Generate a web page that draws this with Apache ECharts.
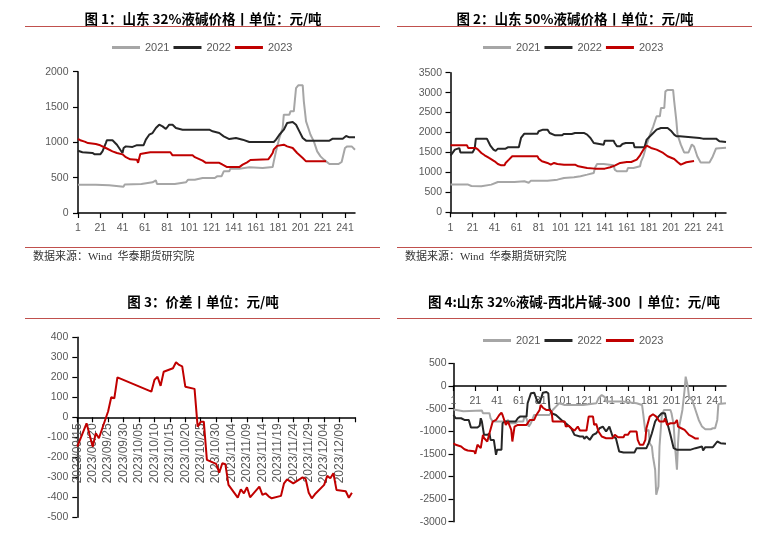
<!DOCTYPE html>
<html><head><meta charset="utf-8">
<script src="https://cdn.jsdelivr.net/npm/echarts@6/dist/echarts.min.js"></script>
<style>html,body{margin:0;padding:0;background:#fff}#c{width:780px;height:533px}</style>
</head><body><div id="c"></div>
<script>
// ---------- categories ----------
const days250 = []; for (let i = 1; i <= 250; i++) days250.push(String(i));
const days251 = []; for (let i = 1; i <= 251; i++) days251.push(String(i));
const spreadDates = [];
for (let d = new Date(2023, 8, 15); d <= new Date(2023, 11, 14); d.setDate(d.getDate() + 1)) {
  spreadDates.push(d.getFullYear() + '/' + String(d.getMonth() + 1).padStart(2, '0') + '/' + String(d.getDate()).padStart(2, '0'));
}
const legendNames = ['2021', '2022', '2023'];

// ---------- 图1 山东32%液碱价格 [day, value] ----------
const p1_2021 = [[1,400],[17,400],[18,392],[29,392],[30,373],[42,373],[43,405],[58,410],[59,434],[68,434],[69,462],[71,462],[72,410],[88,410],[89,434],[98,434],[100,472],[106,472],[107,495],[113,495],[114,472],[115,495],[124,495],[126,519],[130,519],[132,590],[137,590],[138,627],[146,627],[147,646],[155,646],[156,637],[167,637],[168,651],[176,651],[177,731],[179,873],[182,1061],[185,1203],[186,1392],[191,1392],[192,1439],[195,1439],[197,1769],[199,1807],[203,1807],[204,1580],[206,1297],[208,1203],[210,1108],[213,1014],[216,873],[219,802],[222,755],[227,693],[235,693],[238,722],[241,920],[243,943],[247,943],[250,896]];
const p1_2022 = [[1,880],[5,860],[14,850],[16,830],[21,830],[23,873],[26,990],[27,1030],[32,1030],[33,1014],[36,967],[39,896],[41,849],[42,920],[44,943],[50,935],[54,960],[60,960],[62,1038],[65,1108],[68,1132],[71,1203],[74,1250],[77,1226],[80,1189],[83,1250],[86,1250],[89,1203],[95,1179],[119,1179],[122,1156],[128,1132],[132,1085],[137,1047],[143,1061],[149,1038],[155,1005],[177,1005],[179,1038],[182,1108],[186,1179],[189,1274],[194,1288],[197,1250],[200,1156],[203,1061],[206,1024],[227,1024],[230,1052],[231,1024],[233,1052],[239,1052],[242,1090],[245,1071],[250,1071]];
const p1_2023 = [[1,1050],[3,1030],[7,1010],[10,990],[17,976],[21,958],[26,920],[32,873],[36,849],[41,830],[44,790],[48,760],[54,755],[55,710],[56,705],[57,835],[62,849],[66,860],[84,860],[86,816],[104,816],[106,790],[113,741],[116,710],[128,710],[131,684],[135,650],[146,650],[149,684],[153,717],[156,750],[172,760],[174,802],[176,849],[177,900],[180,950],[186,967],[189,943],[194,920],[198,849],[203,778],[206,731],[224,731]];

// ---------- 图2 山东50%液碱价格 ----------
const p2_2021 = [[1,694],[17,694],[18,677],[20,660],[29,652],[30,694],[38,694],[39,735],[44,760],[59,760],[60,777],[68,777],[69,740],[72,740],[74,794],[89,794],[90,819],[98,819],[99,861],[104,861],[105,877],[113,877],[114,903],[119,903],[120,944],[125,944],[126,986],[131,986],[132,1111],[134,1212],[140,1212],[141,1178],[149,1178],[150,1070],[152,1028],[161,1028],[162,1111],[167,1111],[168,1153],[173,1153],[174,1279],[176,1404],[179,1696],[182,1947],[185,2156],[188,2407],[191,2407],[192,2616],[195,2616],[196,3034],[198,3067],[203,3067],[204,2783],[206,2281],[207,1947],[210,1696],[213,1500],[217,1500],[220,1700],[222,1650],[225,1400],[228,1250],[236,1250],[239,1400],[242,1600],[251,1620]];
const p2_2022 = [[1,1420],[5,1571],[9,1610],[10,1500],[21,1500],[23,1600],[24,1847],[34,1847],[37,1680],[40,1571],[42,1540],[44,1596],[51,1596],[53,1630],[63,1630],[65,1864],[68,1972],[80,1972],[81,2031],[82,1989],[85,2072],[89,2072],[91,1989],[96,1930],[102,1930],[104,1964],[111,1964],[114,1989],[122,1989],[125,1947],[128,1864],[131,1738],[132,1696],[140,1696],[141,1797],[149,1797],[150,1738],[152,1655],[155,1655],[157,1713],[160,1738],[167,1738],[168,1630],[177,1630],[179,1822],[182,1905],[185,1989],[188,2072],[192,2114],[198,2114],[201,2047],[204,1947],[206,1905],[209,1905],[210,1864],[227,1864],[230,1847],[242,1847],[245,1780],[251,1763]];
const p2_2023 = [[1,1680],[16,1680],[17,1613],[24,1613],[26,1571],[29,1488],[32,1429],[36,1362],[41,1279],[44,1212],[47,1178],[50,1178],[51,1237],[54,1320],[57,1404],[80,1404],[81,1345],[84,1279],[89,1237],[92,1195],[95,1237],[98,1212],[104,1195],[114,1195],[117,1153],[125,1111],[132,1095],[141,1095],[146,1128],[150,1170],[155,1237],[161,1262],[165,1262],[170,1320],[173,1429],[176,1571],[179,1671],[183,1613],[188,1571],[194,1488],[198,1404],[204,1337],[207,1262],[210,1195],[215,1254],[222,1287]];

// ---------- 图3 价差 [date, value] ----------
const spread2023 = [['2023/09/15',-147],['2023/09/18',-30],['2023/09/20',-147],['2023/09/21',-80],['2023/09/22',-105],['2023/09/25',30],['2023/09/26',100],['2023/09/27',95],['2023/09/28',200],['2023/10/09',128],['2023/10/10',187],['2023/10/11',203],['2023/10/12',157],['2023/10/13',228],['2023/10/16',245],['2023/10/17',275],['2023/10/18',262],['2023/10/19',255],['2023/10/20',153],['2023/10/23',142],['2023/10/24',-47],['2023/10/25',-22],['2023/10/26',-22],['2023/10/27',-213],['2023/10/30',-233],['2023/10/31',-277],['2023/11/01',-230],['2023/11/02',-235],['2023/11/03',-338],['2023/11/06',-402],['2023/11/07',-360],['2023/11/08',-380],['2023/11/09',-350],['2023/11/10',-400],['2023/11/13',-347],['2023/11/14',-388],['2023/11/15',-380],['2023/11/16',-395],['2023/11/17',-405],['2023/11/20',-393],['2023/11/21',-330],['2023/11/22',-310],['2023/11/23',-320],['2023/11/24',-330],['2023/11/27',-300],['2023/11/28',-308],['2023/11/29',-377],['2023/11/30',-405],['2023/12/01',-385],['2023/12/04',-338],['2023/12/05',-293],['2023/12/06',-305],['2023/12/07',-280],['2023/12/08',-363],['2023/12/11',-370],['2023/12/12',-402],['2023/12/13',-377]];

// ---------- 图4 山东32%液碱-西北片碱-300 ----------
const p4_2021 = [[1,-520],[10,-560],[27,-540],[28,-600],[34,-600],[35,-713],[37,-786],[49,-786],[51,-750],[52,-823],[58,-823],[60,-786],[65,-786],[66,-676],[68,-720],[70,-897],[72,-823],[75,-640],[89,-640],[92,-529],[95,-456],[98,-382],[103,-419],[120,-419],[121,-382],[132,-382],[134,-272],[137,-198],[140,-250],[141,-345],[157,-345],[158,-382],[169,-382],[170,-419],[174,-419],[175,-603],[177,-1007],[180,-970],[181,-1264],[183,-1338],[184,-1558],[186,-1852],[187,-2404],[189,-2220],[190,-1338],[192,-676],[194,-529],[200,-529],[201,-603],[203,-860],[204,-1264],[206,-1852],[207,-1264],[208,-897],[209,-780],[210,-820],[211,-529],[213,-88],[214,206],[216,-15],[217,-235],[220,-309],[223,-529],[226,-750],[229,-897],[232,-956],[237,-956],[239,-934],[241,-934],[243,-750],[244,-400],[251,-380]];
const p4_2022 = [[1,-640],[3,-713],[8,-713],[11,-750],[15,-750],[17,-919],[23,-919],[25,-880],[26,-713],[27,-780],[29,-1080],[32,-1080],[34,-1050],[35,-1191],[38,-1191],[40,-1521],[41,-1411],[45,-1411],[46,-823],[48,-786],[58,-786],[60,-713],[62,-676],[68,-676],[69,-382],[72,-162],[75,-147],[78,-345],[80,-382],[83,-147],[86,-132],[88,-160],[89,-492],[91,-603],[95,-640],[100,-750],[104,-823],[109,-934],[112,-1080],[117,-1117],[120,-1117],[121,-1169],[123,-1117],[126,-1191],[129,-1080],[132,-1044],[135,-934],[138,-897],[141,-1007],[144,-897],[147,-1117],[150,-1154],[153,-1448],[157,-1470],[167,-1470],[169,-1374],[178,-1374],[180,-1264],[183,-1044],[186,-786],[189,-676],[192,-603],[195,-603],[196,-713],[200,-1080],[203,-1374],[206,-1411],[218,-1411],[223,-1374],[229,-1338],[230,-1426],[232,-1352],[239,-1352],[243,-1227],[246,-1264],[251,-1279]];
const p4_2023 = [[1,-1264],[3,-1300],[8,-1338],[11,-1397],[14,-1426],[20,-1440],[21,-1500],[22,-1540],[23,-1300],[26,-1374],[28,-1080],[29,-1150],[32,-1227],[34,-1044],[37,-786],[40,-750],[43,-640],[45,-588],[46,-640],[48,-786],[49,-860],[51,-786],[52,-830],[54,-970],[55,-1227],[57,-897],[60,-860],[68,-860],[71,-750],[75,-750],[77,-640],[80,-529],[81,-419],[83,-480],[86,-529],[89,-529],[91,-566],[92,-786],[103,-786],[104,-897],[107,-880],[109,-934],[112,-985],[115,-897],[117,-985],[123,-985],[125,-676],[129,-676],[130,-860],[132,-840],[134,-1007],[137,-1117],[141,-1154],[147,-1154],[149,-1080],[152,-1132],[157,-1132],[158,-1080],[161,-1080],[163,-1007],[169,-1007],[170,-1191],[172,-1300],[175,-1300],[177,-1191],[178,-934],[181,-676],[184,-625],[187,-676],[190,-786],[194,-786],[195,-713],[197,-860],[198,-897],[200,-823],[201,-786],[204,-823],[206,-750],[207,-897],[210,-934],[213,-970],[217,-1080],[220,-1117],[223,-1161],[226,-1161]];

// ---------- styling ----------
const C21 = '#a6a6a6', C22 = '#262626', C23 = '#c00000';
const LBL = '#595959', AX = '#000';
const FONT = '"Liberation Sans", Arial, sans-serif';
const TFONT = 'bold 13.5px "Noto Sans CJK SC", sans-serif';
const SFONT = '11px "Liberation Serif", "Noto Sans CJK SC", serif';
const RULE = '#c0504d';

function line(name, pts, gi, color) {
  return { name, type: 'line', xAxisIndex: gi, yAxisIndex: gi,
    data: pts.map(p => [String(p[0]), p[1]]),
    showSymbol: false, symbol: 'none', animation: false,
    lineStyle: { width: 2, color }, itemStyle: { color } };
}
function xCat(gi, data, margin, offset) {
  return { type: 'category', gridIndex: gi, data, boundaryGap: false, position: 'bottom', offset: offset || 0,
    axisLine: { show: true, onZero: false, lineStyle: { color: AX, width: 1.5 } },
    axisTick: { show: true, interval: 19, length: 5, lineStyle: { color: AX, width: 1.2 } },
    axisLabel: { interval: 19, color: LBL, fontSize: 10.5, fontFamily: FONT, margin, hideOverlap: false },
    splitLine: { show: false } };
}
function yVal(gi, min, max, interval, margin) {
  return { type: 'value', gridIndex: gi, min, max, interval,
    axisLine: { show: true, lineStyle: { color: AX, width: 1.5 } },
    axisTick: { show: true, length: 5, lineStyle: { color: AX, width: 1.2 } },
    axisLabel: { color: LBL, fontSize: 10.5, fontFamily: FONT, margin, formatter: (v) => String(v) },
    splitLine: { show: false } };
}
function legend(left, top) {
  return { data: legendNames, left, top, padding: 0, icon: 'rect', itemWidth: 28, itemHeight: 3, itemGap: 4,
    textStyle: { color: LBL, fontSize: 11, fontFamily: FONT }, selectedMode: false };
}
function txt(text, x, y, font, align, fill) {
  return { type: 'text', x, y, silent: true,
    style: { text, font, fill: fill || '#000', align: align || 'center', verticalAlign: 'middle' } };
}
function rule(x1, x2, y) {
  return { type: 'line', silent: true, shape: { x1, y1: y, x2, y2: y }, style: { stroke: RULE, lineWidth: 1 } };
}

const spreadX = {
  type: 'category', gridIndex: 2, data: spreadDates, boundaryGap: false, position: 'bottom', offset: -100,
  axisLine: { show: true, onZero: false, lineStyle: { color: AX, width: 1.5 } },
  axisTick: { show: true, interval: (i) => i % 5 === 0, length: 5, lineStyle: { color: AX, width: 1.2 } },
  axisLabel: { interval: (i) => i % 5 === 0 && i < 90, rotate: 90, color: LBL, fontSize: 12, fontFamily: FONT, margin: 6, hideOverlap: false },
  splitLine: { show: false }
};

const G = { outerBoundsMode: 'none', containLabel: false };
const option = {
  animation: false,
  backgroundColor: '#fff',
  legend: [legend(112, 42), legend(483, 42), legend(483, 335)],
  grid: [
    Object.assign({ left: 78, top: 71.7, width: 277, height: 141.3 }, G),
    Object.assign({ left: 450.5, top: 72.7, width: 275.5, height: 139.6 }, G),
    Object.assign({ left: 77.3, top: 337.3, width: 277.7, height: 180 }, G),
    Object.assign({ left: 453.5, top: 363.4, width: 272.5, height: 158.3 }, G)
  ],
  xAxis: [xCat(0, days250, 10), xCat(1, days251, 10), spreadX, xCat(3, days251, 10, -135.7)],
  yAxis: [yVal(0, 0, 2000, 500, 9.5), yVal(1, 0, 3500, 500, 8.5), yVal(2, -500, 400, 100, 9), yVal(3, -3000, 500, 500, 7)],
  series: [
    line('2021', p1_2021, 0, C21), line('2022', p1_2022, 0, C22), line('2023', p1_2023, 0, C23),
    line('2021', p2_2021, 1, C21), line('2022', p2_2022, 1, C22), line('2023', p2_2023, 1, C23),
    { name: '价差', type: 'line', xAxisIndex: 2, yAxisIndex: 2, data: spread2023, showSymbol: false, symbol: 'none',
      animation: false, lineStyle: { width: 2, color: C23 }, itemStyle: { color: C23 } },
    line('2021', p4_2021, 3, C21), line('2022', p4_2022, 3, C22), line('2023', p4_2023, 3, C23)
  ],
  graphic: [
    txt('图 1：山东 32%液碱价格丨单位：元/吨', 203, 18.5, TFONT),
    txt('图 2：山东 50%液碱价格丨单位：元/吨', 575, 18.5, TFONT),
    txt('图 3：价差丨单位：元/吨', 203, 301.5, TFONT),
    txt('图 4:山东 32%液碱-西北片碱-300 丨单位：元/吨', 574, 301.5, TFONT),
    rule(25, 380, 26.5), rule(397, 752, 26.5), rule(25, 380, 318.5), rule(397, 752, 318.5),
    rule(25, 380, 247.5), rule(397, 752, 247.5),
    txt('数据来源：Wind  华泰期货研究院', 33, 257.5, SFONT, 'left', '#333'),
    txt('数据来源：Wind  华泰期货研究院', 405, 257.5, SFONT, 'left', '#333')
  ]
};
const chart = echarts.init(document.getElementById('c'), null, { renderer: 'canvas' });
chart.setOption(option);
</script></body></html>
